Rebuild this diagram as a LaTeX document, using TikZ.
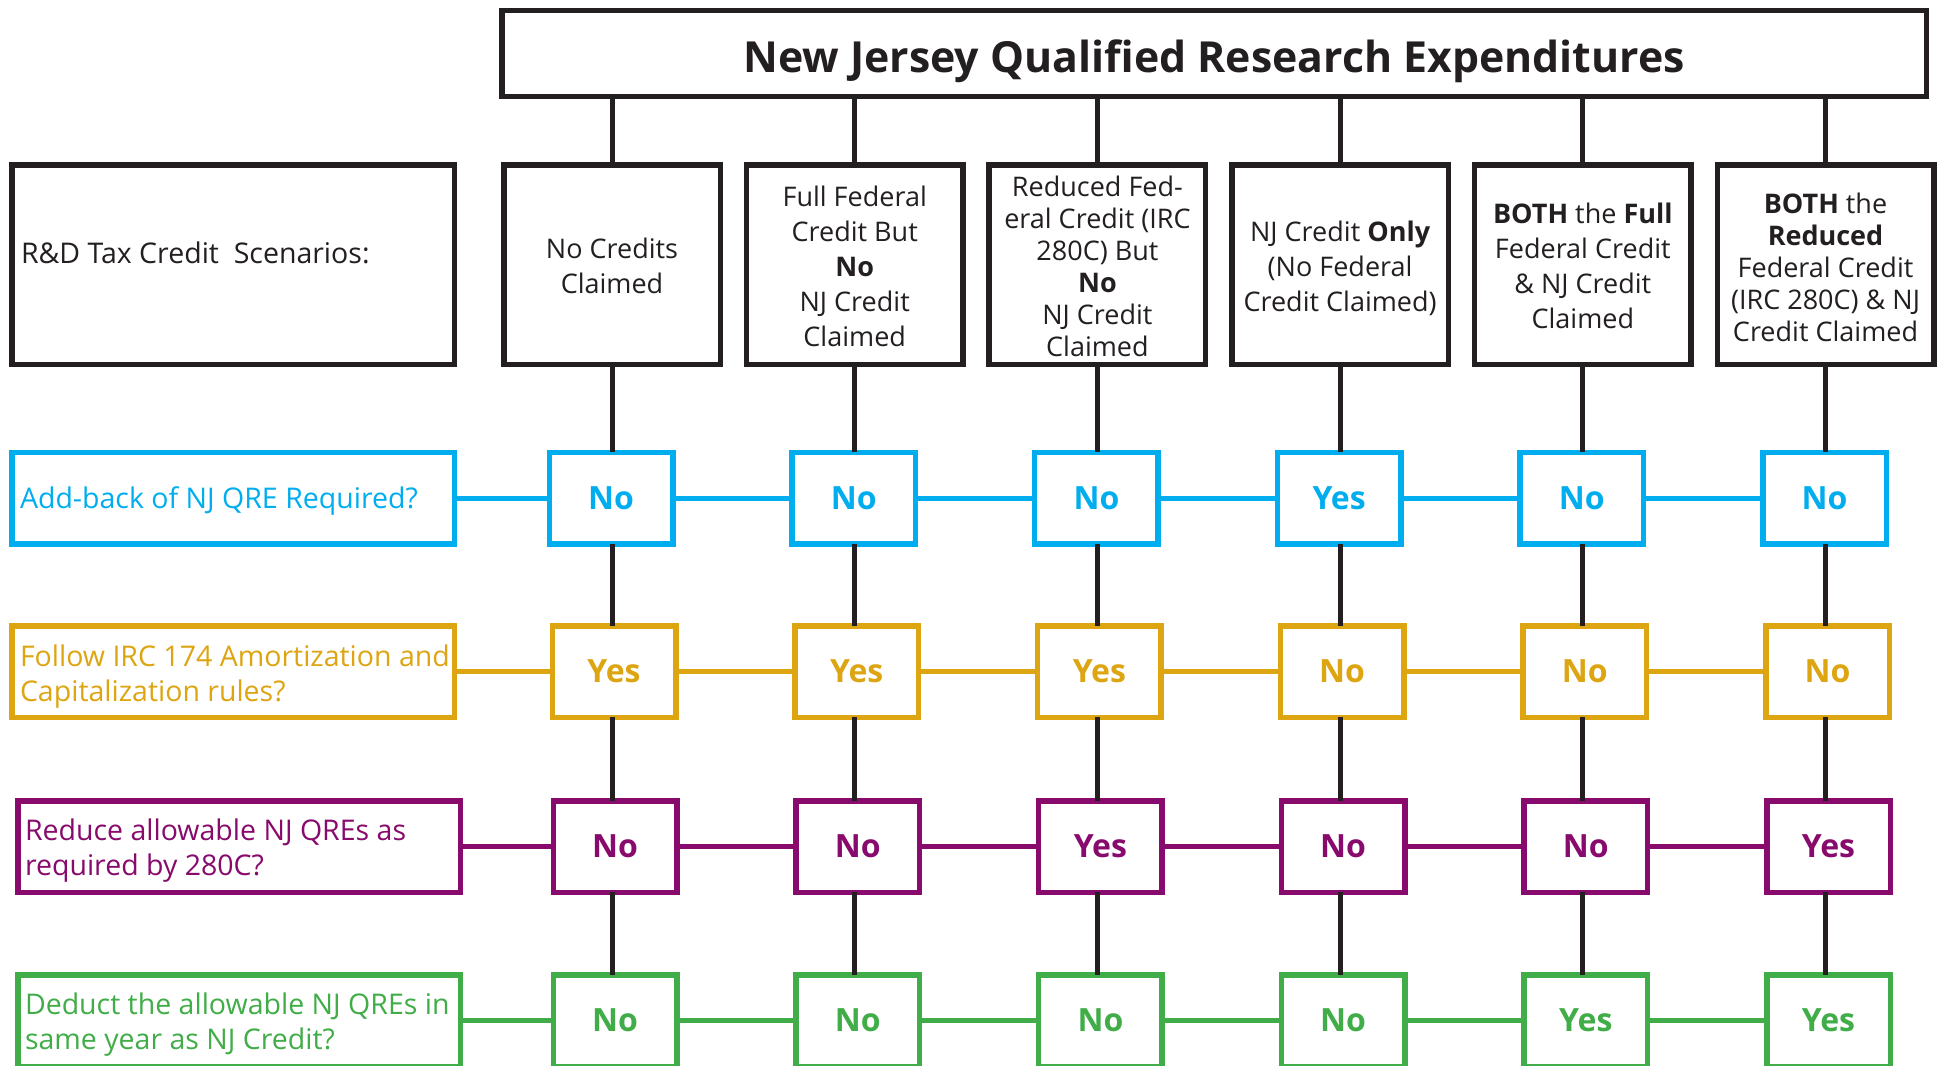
\documentclass[tikz,border=0pt]{standalone}
\usepackage{fontspec}
\setmainfont{Open Sans}
\definecolor{cblk}{HTML}{231F20}
\definecolor{cblue}{HTML}{00AEEF}
\definecolor{cgold}{HTML}{DDA512}
\definecolor{cpurp}{HTML}{870A6C}
\definecolor{cgreen}{HTML}{40AD48}
\begin{document}
\begin{tikzpicture}[x=1pt,y=-1pt,
  every node/.style={inner sep=0pt, outer sep=0pt},
  bframe/.style={draw=#1, line width=5.5pt, fill=white},
  ttl/.style={bframe=cblk, minimum width=1424.5pt, minimum height=85.5pt, font=\fontsize{42.8}{50}\selectfont\bfseries, text=cblk, text height=37pt, text depth=0pt},
  scen/.style={bframe=cblk, minimum width=216.5pt, minimum height=199.5pt},
  stxt/.style={align=center, text=cblk, font=\fontsize{27}{35}\selectfont},
  stxttight/.style={stxt, font=\fontsize{27}{32}\selectfont},
  ans/.style={bframe=#1, text=#1, minimum width=123.5pt, minimum height=91.5pt, font=\fontsize{32}{38}\selectfont\bfseries, text height=22.8pt, text depth=0pt},
  qbox/.style={bframe=#1, minimum width=442.5pt, minimum height=91.5pt},
  qtxt/.style={text=#1, anchor=west, align=left, font=\fontsize{28.5}{35}\selectfont},
  qtxtone/.style={qtxt=#1, text height=20.3pt, text depth=0pt},
  conn/.style={draw=#1, line width=5pt},
]
\useasboundingbox (0,0) rectangle (1942,1065);
\clip (0,0) rectangle (1942,1065);

% title
\node[ttl] (title) at (1214,53.5) {New Jersey Qualified Research Expenditures};

% scenario row
\node[scen, minimum width=442.5pt] (s0) at (233,264.5) {};
\node[qtxtone=cblk] (s0t) at (21,253.5) {R\&D Tax Credit\ \ Scenarios:};
\node[scen] (s1) at (612,264.5) {};
\node[scen] (s2) at (854.7,264.5) {};
\node[scen] (s3) at (1097.4,264.5) {};
\node[scen] (s4) at (1340.1,264.5) {};
\node[scen] (s5) at (1582.8,264.5) {};
\node[scen] (s6) at (1825.5,264.5) {};
\node[stxt] (s1t) at (612,265.7) {No Credits\\Claimed};
\node[stxt] (s2t) at (854.7,266) {Full Federal\\Credit But\\\textbf{No}\\NJ Credit\\Claimed};
\node[stxttight] (s3t) at (1097.4,266.5) {Reduced Fed-\\eral Credit (IRC\\280C) But\\\textbf{No}\\NJ Credit\\Claimed};
\node[stxt] (s4t) at (1340.1,268.2) {NJ Credit \textbf{Only}\\(No Federal\\Credit Claimed)};
\node[stxt] (s5t) at (1582.8,266) {\textbf{BOTH} the \textbf{Full}\\Federal Credit\\\& NJ Credit\\Claimed};
\node[stxttight] (s6t) at (1825.5,267) {\textbf{BOTH} the\\\textbf{Reduced}\\Federal Credit\\(IRC 280C) \& NJ\\Credit Claimed};

% question labels
\node[qbox=cblue] (bl) at (233,498) {};
\node[qtxtone=cblue] (blt) at (20,498.5) {Add-back of NJ QRE Required?};
\node[qbox=cgold] (gl) at (233,671.5) {};
\node[qtxt=cgold] (glt) at (20,676.5) {Follow IRC 174 Amortization and\\Capitalization rules?};
\node[qbox=cpurp] (pl) at (239,846.5) {};
\node[qtxt=cpurp] (plt) at (25,850.5) {Reduce allowable NJ QREs as\\required by 280C?};
\node[qbox=cgreen] (nl) at (239,1020.5) {};
\node[qtxt=cgreen] (nlt) at (25,1024.5) {Deduct the allowable NJ QREs in\\same year as NJ Credit?};

% answers
\foreach \i/\x/\a/\b/\c/\d in {1/612/No/Yes/No/No, 2/854.7/No/Yes/No/No, 3/1097.4/No/Yes/Yes/No, 4/1340.1/Yes/No/No/No, 5/1582.8/No/No/No/Yes, 6/1825.5/No/No/Yes/Yes}{
  \node[ans=cblue] (b\i) at (\x-1,498) {\a};
  \node[ans=cgold] (g\i) at (\x+2,671.5) {\b};
  \node[ans=cpurp] (p\i) at (\x+3,846.5) {\c};
  \node[ans=cgreen] (n\i) at (\x+3,1020.5) {\d};
}

% vertical connectors
\foreach \i in {1,...,6}{
  \draw[conn=cblk] (s\i.north) -- (s\i.north |- title.south);
  \draw[conn=cblk] (s\i.south) -- (s\i.south |- b\i.north);
  \draw[conn=cblk] (s\i.south |- b\i.south) -- (s\i.south |- g\i.north);
  \draw[conn=cblk] (s\i.south |- g\i.south) -- (s\i.south |- p\i.north);
  \draw[conn=cblk] (s\i.south |- p\i.south) -- (s\i.south |- n\i.north);
}

% horizontal connectors
\draw[conn=cblue] (bl.east) -- (b1.west);
\draw[conn=cgold] (gl.east) -- (g1.west);
\draw[conn=cpurp] (pl.east) -- (p1.west);
\draw[conn=cgreen] (nl.east) -- (n1.west);
\foreach \i/\j in {1/2,2/3,3/4,4/5,5/6}{
  \draw[conn=cblue] (b\i.east) -- (b\j.west);
  \draw[conn=cgold] (g\i.east) -- (g\j.west);
  \draw[conn=cpurp] (p\i.east) -- (p\j.west);
  \draw[conn=cgreen] (n\i.east) -- (n\j.west);
}
\end{tikzpicture}
\end{document}
